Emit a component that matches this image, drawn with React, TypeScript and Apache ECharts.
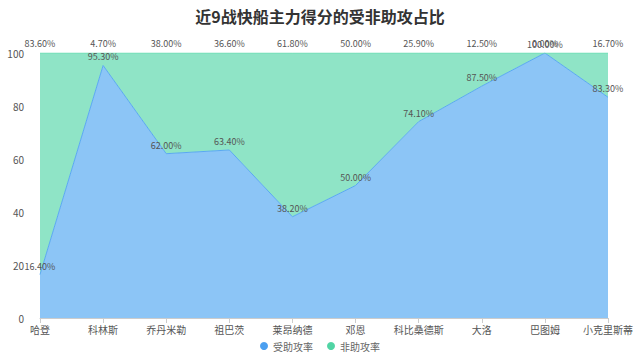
import React, { useEffect, useRef } from "react";
import * as echarts from "echarts";

const categories = ["哈登", "科林斯", "乔丹米勒", "祖巴茨", "莱昂纳德", "邓恩", "科比桑德斯", "大洛", "巴图姆", "小克里斯蒂"];
const assisted = [16.4, 95.3, 62.0, 63.4, 38.2, 50.0, 74.1, 87.5, 100.0, 83.3];
const unassisted = [83.6, 4.7, 38.0, 36.6, 61.8, 50.0, 25.9, 12.5, 0.0, 16.7];
const yTicks = [0, 20, 40, 60, 80, 100];

const FONT = "'Noto Sans CJK SC', sans-serif";

export default function App() {
  const ref = useRef<HTMLDivElement>(null);
  useEffect(() => {
    document.body.style.margin = "0";
    if (!ref.current) return;
    const chart = echarts.init(ref.current, undefined, { renderer: "svg" });
    const fmt = (p: any) => Number(p.value).toFixed(2) + "%";
    chart.setOption({
      animation: false,
      textStyle: { fontFamily: FONT },
      title: {
        text: "近9战快船主力得分的受非助攻占比",
        left: "center",
        top: 3,
        textStyle: { fontSize: 16, fontWeight: "bold", color: "#333", fontFamily: FONT },
      },
      legend: {
        bottom: 2,
        left: "center",
        icon: "circle",
        itemWidth: 8,
        itemHeight: 8,
        itemGap: 14,
        textStyle: { fontSize: 10, color: "#666", fontFamily: FONT },
        data: ["受助攻率", "非助攻率"],
      },
      grid: { left: 40, right: 32, top: 53, bottom: 40 },
      xAxis: {
        type: "category",
        boundaryGap: false,
        data: categories,
        axisLine: { lineStyle: { color: "#ccc" } },
        axisTick: { lineStyle: { color: "#ccc" } },
        axisLabel: { color: "#555", fontSize: 10, fontFamily: FONT, interval: 0, margin: 6 },
      },
      yAxis: {
        type: "value",
        min: yTicks[0],
        max: yTicks[yTicks.length - 1],
        interval: 20,
        axisLine: { show: false },
        axisTick: { show: false },
        axisLabel: { color: "#555", fontSize: 10, fontFamily: FONT, margin: 16 },
        splitLine: { lineStyle: { type: "dashed", color: "#eee" } },
      },
      series: [
        {
          name: "受助攻率",
          type: "line",
          stack: "total",
          data: assisted,
          symbol: "circle",
          symbolSize: 0,
          showSymbol: true,
          itemStyle: { color: "#4a9ff0" },
          lineStyle: { color: "#5aa8f2", width: 1 },
          areaStyle: { color: "#8cc5f6", opacity: 1 },
          label: { show: true, position: "top", distance: 4, formatter: fmt, color: "#555", fontSize: 9, fontFamily: FONT },
        },
        {
          name: "非助攻率",
          type: "line",
          stack: "total",
          data: unassisted,
          symbol: "circle",
          symbolSize: 0,
          showSymbol: true,
          itemStyle: { color: "#50d4a4" },
          lineStyle: { color: "#6cddb4", width: 1 },
          areaStyle: { color: "#8fe4c6", opacity: 1 },
          label: { show: true, position: "top", distance: 5, formatter: fmt, color: "#555", fontSize: 9, fontFamily: FONT },
        },
      ],
    });
    return () => chart.dispose();
  }, []);
  return <div ref={ref} style={{ width: 640, height: 358 }} />;
}
